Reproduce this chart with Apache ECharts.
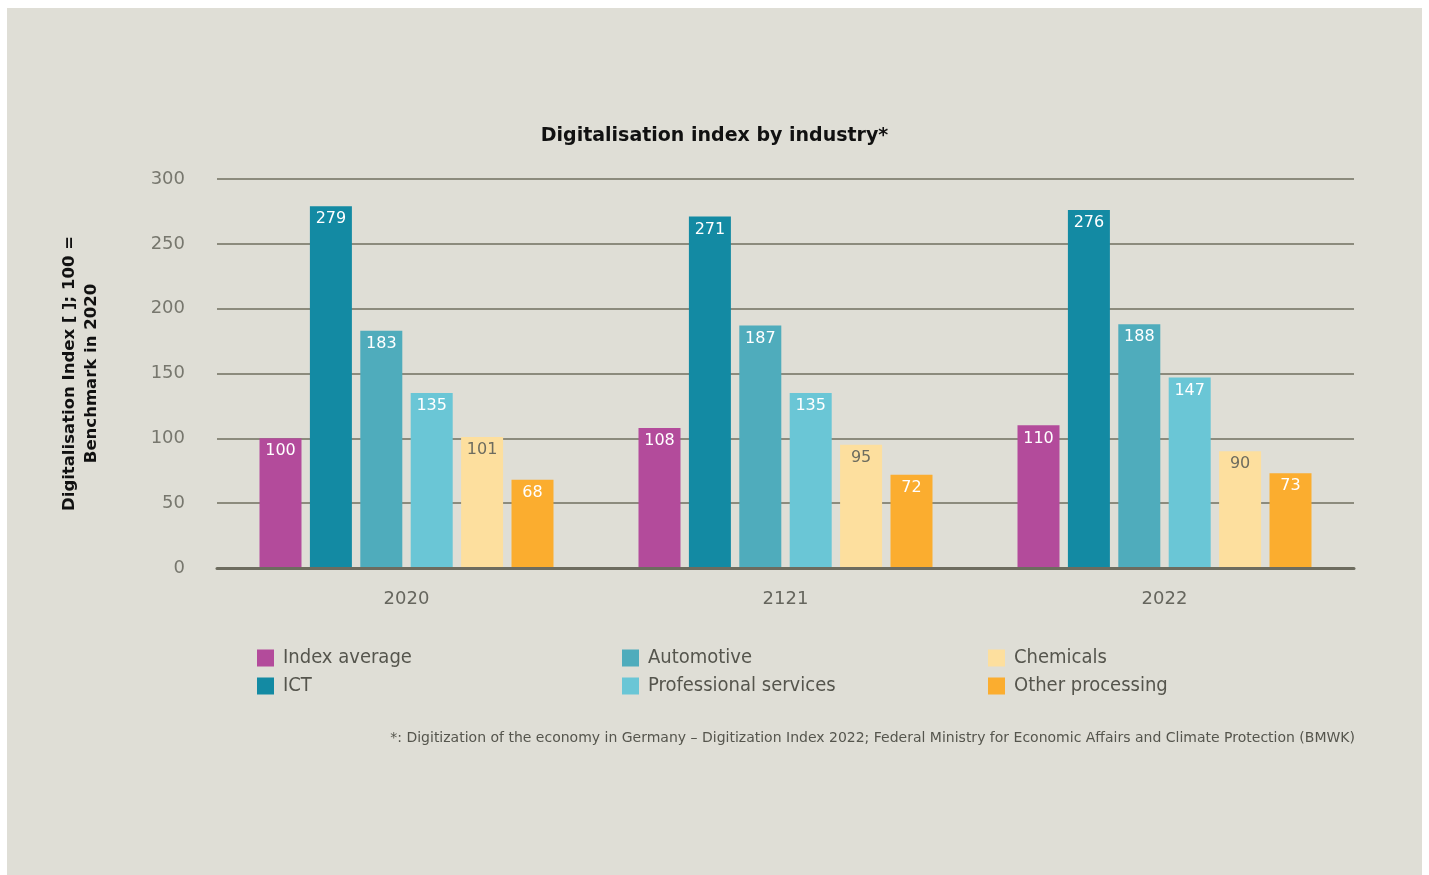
<!DOCTYPE html>
<html>
<head>
<meta charset="utf-8">
<script src="https://cdn.jsdelivr.net/npm/echarts@6/dist/echarts.min.js"></script>
<style>
html,body{margin:0;padding:0;background:#ffffff;}
#chart{position:absolute;left:7px;top:8px;width:1415px;height:867px;background:#dfded6;}
</style>
</head>
<body>
<div id="chart"></div>
<script>
const categories = ['2020', '2121', '2022'];
const seriesNames = ['Index average', 'ICT', 'Automotive', 'Professional services', 'Chemicals', 'Other processing'];
const indexAverage = [100, 108, 110];
const ict = [279, 271, 276];
const automotive = [183, 187, 188];
const professionalServices = [135, 135, 147];
const chemicals = [101, 95, 90];
const otherProcessing = [68, 72, 73];
const seriesValues = [indexAverage, ict, automotive, professionalServices, chemicals, otherProcessing];
const colors = ['#b34b9b', '#138aa3', '#4facbc', '#6ac6d6', '#fddf9e', '#fbad2f'];
const labelColors = ['#ffffff', '#ffffff', '#ffffff', '#ffffff', '#6d6c5f', '#ffffff'];
const yTicks = [0, 50, 100, 150, 200, 250, 300];

const FONT = '"DejaVu Sans", sans-serif';
const FONTC = '"DejaVu Sans Condensed", "DejaVu Sans", sans-serif';

const chart = echarts.init(document.getElementById('chart'));
const series = seriesNames.map((name, i) => ({
  name: name,
  type: 'bar',
  data: seriesValues[i],
  barWidth: 42,
  barGap: '20%',
  itemStyle: { color: colors[i] },
  z: 2,
  label: {
    show: true,
    position: 'insideTop',
    distance: 5,
    color: labelColors[i],
    fontFamily: FONT,
    fontSize: 16,
    letterSpacing: 1
  }
}));

chart.setOption({
  animation: false,
  backgroundColor: '#dfded6',
  color: colors,
  title: {
    text: 'Digitalisation index by industry*',
    left: 'center',
    top: 114,
    textStyle: { fontFamily: FONT, fontSize: 19, fontWeight: 'bold', color: '#111111' }
  },
  grid: { left: 210, right: 68, top: 171, bottom: 307 },
  legend: [
    { data: seriesNames.slice(0, 2), left: 250, top: 640, orient: 'vertical' },
    { data: seriesNames.slice(2, 4), left: 615, top: 640, orient: 'vertical' },
    { data: seriesNames.slice(4, 6), left: 981, top: 640, orient: 'vertical' }
  ].map(l => Object.assign(l, {
    padding: 0,
    icon: 'rect', itemWidth: 17, itemHeight: 17, itemGap: 8,
    textStyle: { fontFamily: FONTC, fontSize: 20, color: '#55554d', fontWeight: 'normal', padding: [0, 0, 0, 4] }
  })),
  xAxis: {
    type: 'category',
    data: categories,
    axisLine: { show: true, lineStyle: { color: '#6d6c5f', width: 3 } },
    axisTick: { show: false },
    z: 3,
    axisLabel: { margin: 22, fontFamily: FONT, fontSize: 18, color: '#66665e', letterSpacing: 2 }
  },
  yAxis: {
    type: 'value',
    min: 0,
    max: 300,
    interval: 50,
    name: 'Digitalisation Index [ ]; 100 =\nBenchmark in 2020',
    nameLocation: 'middle',
    nameGap: 114,
    nameTextStyle: { fontFamily: FONT, fontSize: 16.5, fontWeight: 'bold', color: '#111111', lineHeight: 22 },
    axisLine: { show: false },
    axisTick: { show: false },
    axisLabel: { margin: 32, fontFamily: FONT, fontSize: 18, color: '#77776e', letterSpacing: 1,
      formatter: v => yTicks.includes(v) ? String(v) : '' },
    splitLine: { lineStyle: { color: '#8c8b7d', width: 2 } }
  },
  graphic: [{
    type: 'text',
    right: 67,
    top: 723,
    style: {
      text: '*: Digitization of the economy in Germany \u2013 Digitization Index 2022; Federal Ministry for Economic Affairs and Climate Protection (BMWK)',
      fontFamily: FONT,
      fontSize: 14,
      fill: '#55554d'
    }
  }],
  series: series
});
</script>
</body>
</html>
